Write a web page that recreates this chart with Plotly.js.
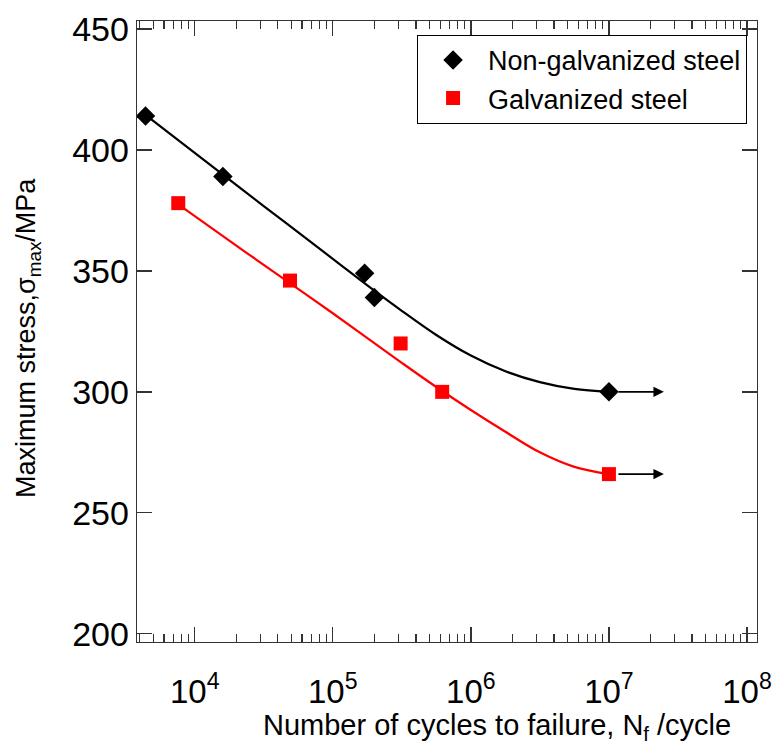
<!DOCTYPE html>
<html><head><meta charset="utf-8">
<script src="https://cdn.plot.ly/plotly-3.0.1.min.js"></script>
<style>html,body{margin:0;padding:0;background:#fff}</style>
</head><body><div id="chart" style="width:774px;height:747px"></div>
<script>
// Measured data points
const nonGalvCycles = [4400, 16000, 170000, 200000, 10000000];
const nonGalvStress = [414, 389, 349, 339, 300];
const galvCycles = [7600, 49000, 310000, 620000, 10000000];
const galvStress = [378, 346, 320, 300, 266];

// Fitted curves
const nonGalvFitCycles = [4400, 10000, 31600, 100000, 178000, 316000, 562000, 1000000, 1780000, 3160000, 5620000, 10000000];
const nonGalvFitStress = [414.5, 398.8, 376.8, 355, 344, 333.5, 323.5, 315, 308.5, 304, 301.2, 300];
const galvFitCycles = [7600, 17800, 31600, 100000, 316000, 562000, 1000000, 1780000, 3160000, 5620000, 10000000];
const galvFitStress = [377.5, 362.5, 352.5, 332.5, 312, 302, 292.5, 283.5, 275, 269, 266];

// Run-out arrows
const arrowStartCycles = [10000000, 10000000];
const arrowEndCycles = [25000000, 25000000];
const arrowStress = [300, 266];

// Ticks
const xTickVals = [1e4, 1e5, 1e6, 1e7, 1e8];
const xTickText = ['10<sup>4</sup>', '10<sup>5</sup>', '10<sup>6</sup>', '10<sup>7</sup>', '10<sup>8</sup>'];
const yTickVals = [200, 250, 300, 350, 400, 450];

const seriesNames = ['Non-galvanized steel', 'Galvanized steel'];
const xTitle = 'Number of cycles to failure, N<sub>f</sub> /cycle';
const yTitle = 'Maximum stress,σ<sub>max</sub>/MPa';

const FONT = 'Liberation Sans, Arial, sans-serif';

const traces = [
  {x: nonGalvFitCycles, y: nonGalvFitStress, mode: 'lines', line: {color: '#000', width: 2.2, shape: 'spline', smoothing: 1}, showlegend: false, hoverinfo: 'skip'},
  {x: galvFitCycles, y: galvFitStress, mode: 'lines', line: {color: '#ff0000', width: 2.2, shape: 'spline', smoothing: 1}, showlegend: false, hoverinfo: 'skip'},
  {x: nonGalvCycles, y: nonGalvStress, mode: 'markers', name: seriesNames[0], marker: {symbol: 'diamond', size: 15, color: '#000'}},
  {x: galvCycles, y: galvStress, mode: 'markers', name: seriesNames[1], marker: {symbol: 'square', size: 14, color: '#ff0000'}}
];

const annotations = arrowStress.map((s, i) => ({
  x: Math.log10(arrowEndCycles[i]), y: s,
  ax: Math.log10(arrowStartCycles[i]), ay: s,
  xref: 'x', yref: 'y', axref: 'x', ayref: 'y',
  showarrow: true, arrowhead: 2, arrowsize: 1.3, arrowwidth: 1.6, arrowcolor: '#000',
  startstandoff: 8, text: ''
}));

// Axis titles (placed as text to match the reference offsets)
annotations.push({
  text: xTitle, xref: 'paper', yref: 'paper', x: 0.580, y: -0.137,
  xanchor: 'center', yanchor: 'middle', showarrow: false,
  font: {family: FONT, size: 29, color: '#000'}
});
annotations.push({
  text: yTitle, xref: 'paper', yref: 'paper', x: -0.1766, y: 0.4887,
  xanchor: 'center', yanchor: 'middle', showarrow: false, textangle: -90,
  font: {family: FONT, size: 27, color: '#000'}
});

const layout = {
  width: 774, height: 747,
  margin: {l: 137, r: 17, t: 21, b: 105},
  paper_bgcolor: '#fff', plot_bgcolor: '#fff',
  font: {family: FONT, color: '#000'},
  showlegend: true,
  legend: {
    x: 0.984, xanchor: 'right', y: 0.906, yanchor: 'middle',
    bordercolor: '#000', borderwidth: 1, bgcolor: '#fff',
    font: {family: FONT, size: 27, color: '#000'},
    itemwidth: 60
  },
  xaxis: {
    type: 'log', range: [3.582, 8.0725],
    tickvals: xTickVals, ticktext: xTickText,
    ticks: 'inside', ticklen: 15, tickwidth: 1.3, tickcolor: '#333',
    minor: {ticks: 'inside', ticklen: 8, tickwidth: 1.3, tickcolor: '#333', dtick: 'D1', showgrid: false},
    showline: true, linecolor: '#333', linewidth: 1.3, mirror: 'allticks',
    showgrid: false, zeroline: false,
    tickfont: {family: FONT, size: 33, color: '#000'},
    ticklabelstandoff: 20,
    automargin: false
  },
  yaxis: {
    range: [196.6, 453.3],
    tickvals: yTickVals,
    ticks: 'inside', ticklen: 15, tickwidth: 1.3, tickcolor: '#333',
    showline: true, linecolor: '#333', linewidth: 1.3, mirror: 'allticks',
    showgrid: false, zeroline: false,
    tickfont: {family: FONT, size: 34, color: '#000'},
    automargin: false
  },
  annotations: annotations
};

Plotly.newPlot('chart', traces, layout, {displayModeBar: false, staticPlot: true});
</script></body></html>
